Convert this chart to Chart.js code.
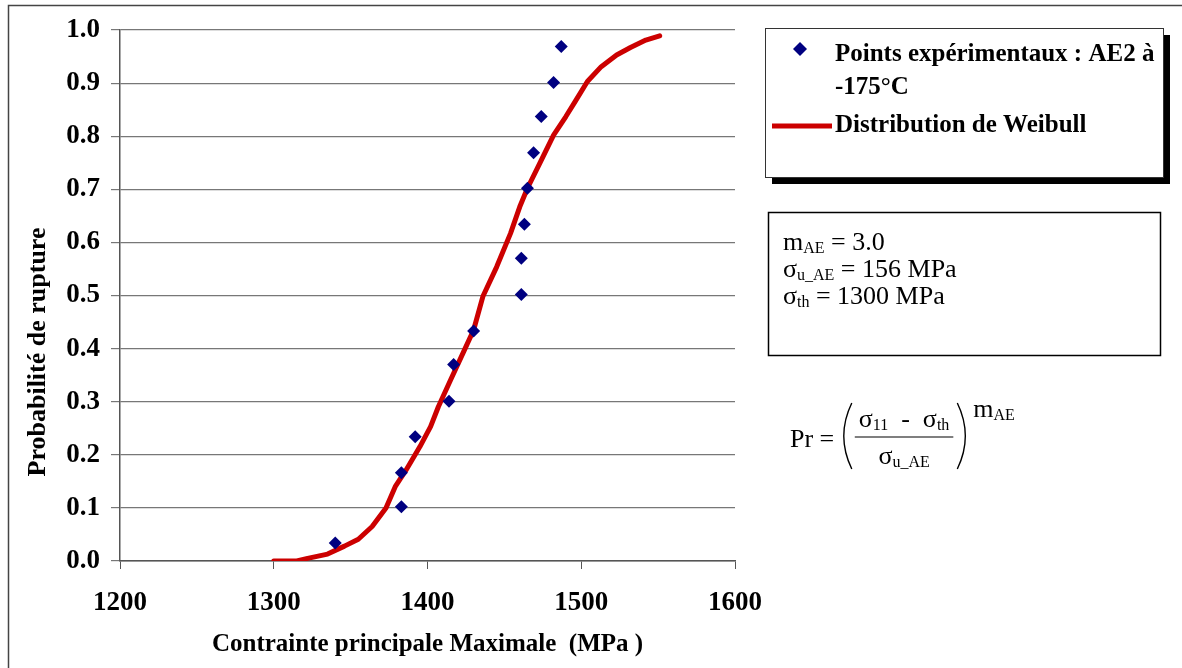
<!DOCTYPE html>
<html>
<head>
<meta charset="utf-8">
<script src="https://cdn.jsdelivr.net/npm/chart.js@4.4.1/dist/chart.umd.min.js"></script>
<style>
body { margin: 0; background: #fff; }
canvas { display: block; }
</style>
</head>
<body>
<canvas id="myChart" width="1182" height="668"></canvas>
<script>
// valeurs
var xTickValues = [1200, 1300, 1400, 1500, 1600];
var xTickLabels = ['1200', '1300', '1400', '1500', '1600'];
var yTickValues = [0, 0.1, 0.2, 0.3, 0.4, 0.5, 0.6, 0.7, 0.8, 0.9, 1.0];
var yTickLabels = ['0.0', '0.1', '0.2', '0.3', '0.4', '0.5', '0.6', '0.7', '0.8', '0.9', '1.0'];

// points experimentaux AE2 a -175°C
var expSigma = [1340, 1383, 1383, 1392, 1414, 1417, 1430, 1461, 1461, 1463, 1465, 1469, 1474, 1482, 1487];
var expProba = [0.034, 0.102, 0.166, 0.234, 0.301, 0.370, 0.433, 0.502, 0.570, 0.634, 0.702, 0.769, 0.837, 0.901, 0.969];

// courbe de Weibull
var weibullSigma = [1300, 1315, 1322, 1335, 1346, 1355, 1364, 1373, 1379, 1386, 1395, 1402, 1407, 1415, 1423,
                    1430, 1436, 1445, 1454, 1460, 1465, 1473, 1482, 1490, 1496, 1504, 1513, 1523, 1532, 1542, 1551];
var weibullProba = [0, 0, 0.005, 0.013, 0.028, 0.041, 0.065, 0.100, 0.140, 0.171, 0.215, 0.253, 0.290, 0.341, 0.391,
                    0.435, 0.498, 0.554, 0.617, 0.667, 0.702, 0.749, 0.802, 0.837, 0.865, 0.903, 0.931, 0.953, 0.967, 0.981, 0.989];

var SERIF = "'Times New Roman', 'Liberation Serif', serif";

function pts(xs, ys) {
    return xs.map(function (x, i) { return { x: x, y: ys[i] }; });
}

// texte avec indices / exposants
function richText(ctx, x, y, parts, size, bold) {
    var w = bold ? 'bold ' : '';
    parts.forEach(function (p) {
        var s = p[1] ? Math.round(size * 0.62) : size;
        var dy = p[1] === 'sub' ? size * 0.22 : (p[1] === 'sup' ? -size * 0.35 : 0);
        ctx.font = w + s + 'px ' + SERIF;
        ctx.fillText(p[0], x, y + dy);
        x += ctx.measureText(p[0]).width;
    });
    return x;
}
function richWidth(ctx, parts, size) {
    var x = 0;
    parts.forEach(function (p) {
        var s = p[1] ? Math.round(size * 0.62) : size;
        ctx.font = s + 'px ' + SERIF;
        x += ctx.measureText(p[0]).width;
    });
    return x;
}

var decor = {
    id: 'decor',
    beforeDraw: function (chart) {
        var ctx = chart.ctx;
        ctx.save();
        ctx.fillStyle = '#fff';
        ctx.fillRect(0, 0, chart.width, chart.height);
        ctx.strokeStyle = '#444';
        ctx.lineWidth = 1.5;
        ctx.beginPath();
        ctx.moveTo(8.5, 700);
        ctx.lineTo(8.5, 5.5);
        ctx.lineTo(1200, 5.5);
        ctx.stroke();
        ctx.restore();
    },
    afterDraw: function (chart) {
        var ctx = chart.ctx;
        var ca = chart.chartArea;
        ctx.save();
        ctx.fillStyle = '#000';
        ctx.textBaseline = 'middle';

        // titres des axes
        ctx.font = 'bold 25px ' + SERIF;
        ctx.textAlign = 'center';
        ctx.fillText('Contrainte principale Maximale  (MPa )', (ca.left + ca.right) / 2, 645);
        ctx.save();
        ctx.translate(38, 352);
        ctx.rotate(-Math.PI / 2);
        ctx.font = 'bold 26px ' + SERIF;
        ctx.fillText('Probabilité de rupture', 0, 0);
        ctx.restore();

        // legende
        ctx.textAlign = 'left';
        ctx.fillStyle = '#000';
        ctx.fillRect(772, 35, 398, 149);
        ctx.fillStyle = '#fff';
        ctx.fillRect(765, 28, 398, 149);
        ctx.strokeStyle = '#333';
        ctx.lineWidth = 1;
        ctx.strokeRect(765.5, 28.5, 398, 149);
        ctx.fillStyle = '#000080';
        ctx.beginPath();
        ctx.moveTo(800, 42);
        ctx.lineTo(807, 49);
        ctx.lineTo(800, 56);
        ctx.lineTo(793, 49);
        ctx.closePath();
        ctx.fill();
        ctx.strokeStyle = '#CC0000';
        ctx.lineWidth = 5;
        ctx.beginPath();
        ctx.moveTo(772, 126);
        ctx.lineTo(832, 126);
        ctx.stroke();
        ctx.fillStyle = '#000';
        ctx.font = 'bold 25px ' + SERIF;
        ctx.fillText('Points expérimentaux : AE2 à', 835, 55);
        ctx.fillText('-175°C', 835, 88);
        ctx.fillText('Distribution de Weibull', 835, 126);

        // parametres
        ctx.strokeStyle = '#000';
        ctx.lineWidth = 1.5;
        ctx.strokeRect(768.5, 212.5, 392, 143);
        richText(ctx, 783, 243, [['m'], ['AE', 'sub'], [' = 3.0']], 26);
        richText(ctx, 783, 270, [['σ'], ['u_AE', 'sub'], [' = 156 MPa']], 26);
        richText(ctx, 783, 297, [['σ'], ['th', 'sub'], [' = 1300 MPa']], 26);

        // formule
        var x = richText(ctx, 790, 440, [['Pr = ']], 26);
        var num = [['σ'], ['11', 'sub'], ['  -  '], ['σ'], ['th', 'sub']];
        var den = [['σ'], ['u_AE', 'sub']];
        var fx0 = x + 14, fw = richWidth(ctx, num, 26) + 8;
        var cx = fx0 + fw / 2;
        richText(ctx, cx - richWidth(ctx, num, 26) / 2, 420, num, 26);
        richText(ctx, cx - richWidth(ctx, den, 26) / 2, 457, den, 26);
        ctx.lineWidth = 1.2;
        ctx.beginPath();
        ctx.moveTo(fx0, 437);
        ctx.lineTo(fx0 + fw, 437);
        ctx.stroke();
        ctx.lineWidth = 1.4;
        ctx.beginPath();
        ctx.moveTo(x + 11, 403);
        ctx.quadraticCurveTo(x - 5, 436, x + 11, 469);
        ctx.moveTo(fx0 + fw + 4, 403);
        ctx.quadraticCurveTo(fx0 + fw + 20, 436, fx0 + fw + 4, 469);
        ctx.stroke();
        richText(ctx, fx0 + fw + 20, 410, [['m'], ['AE', 'sub']], 26);

        ctx.restore();
    }
};

var ctx = document.getElementById('myChart').getContext('2d');
var myChart = new Chart(ctx,
{
    type: 'scatter',
    data:
    {
        datasets:
        [
            {
                label: 'Distribution de Weibull',
                data: pts(weibullSigma, weibullProba),
                showLine: true,
                borderColor: '#CC0000',
                borderWidth: 5,
                borderJoinStyle: 'round',
                borderCapStyle: 'round',
                pointRadius: 0,
                tension: 0,
                order: 2
            },
            {
                label: 'Points expérimentaux : AE2 à -175°C',
                data: pts(expSigma, expProba),
                pointStyle: 'rectRot',
                pointRadius: 6.5,
                backgroundColor: '#000080',
                borderColor: '#000080',
                borderWidth: 0,
                order: 1
            }
        ]
    },
    options:
    {
        responsive: false,
        animation: false,
        layout: { padding: { left: 0, top: 30, right: 447, bottom: 47 } },
        plugins:
        {
            legend: { display: false },
            title: { display: false },
            tooltip: { enabled: false }
        },
        scales:
        {
            x:
            {
                type: 'linear',
                min: 1200,
                max: 1600,
                afterFit: function (s) { s.height = 60; },
                afterBuildTicks: function (s) { s.ticks = xTickValues.map(function (v) { return { value: v }; }); },
                ticks:
                {
                    autoSkip: false,
                    maxRotation: 0,
                    padding: 18,
                    color: '#000',
                    font: { family: SERIF, size: 27, weight: 'bold' },
                    callback: function (v, i) { return xTickLabels[i]; }
                },
                grid: { drawOnChartArea: false, drawTicks: true, tickLength: 8, color: '#555' },
                border: { color: '#555', width: 1.5 }
            },
            y:
            {
                type: 'linear',
                min: 0,
                max: 1,
                afterFit: function (s) { s.width = 120; },
                afterBuildTicks: function (s) { s.ticks = yTickValues.map(function (v) { return { value: v }; }); },
                ticks:
                {
                    autoSkip: false,
                    padding: 11,
                    color: '#000',
                    font: { family: SERIF, size: 27, weight: 'bold' },
                    callback: function (v, i) { return yTickLabels[i]; }
                },
                grid: { color: '#777', lineWidth: 1.2, tickLength: 9 },
                border: { color: '#555', width: 1.5 }
            }
        }
    },
    plugins: [decor]
});
</script>
</body>
</html>
